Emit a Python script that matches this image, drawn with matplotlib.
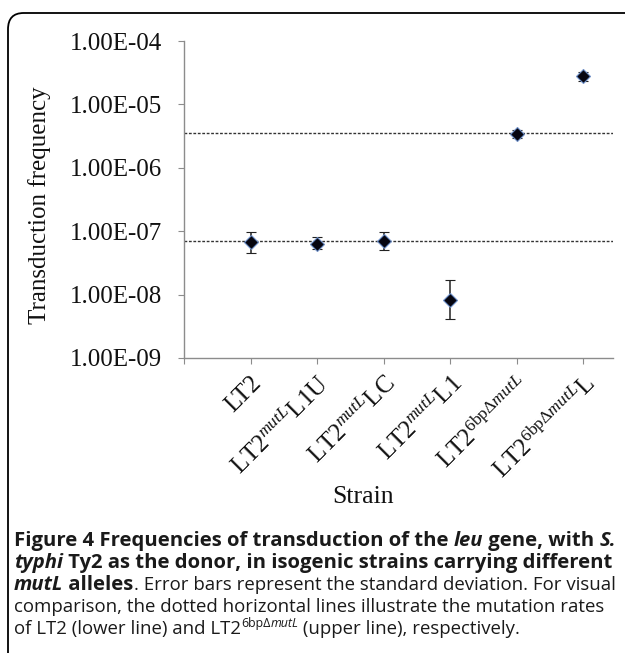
import matplotlib
matplotlib.use("Agg")
import matplotlib.pyplot as plt
import matplotlib.transforms as mtransforms
from matplotlib.patches import FancyBboxPatch
from matplotlib.ticker import FixedLocator, FuncFormatter

plt.rcParams['mathtext.fontset'] = 'custom'
plt.rcParams['mathtext.rm'] = 'Liberation Serif'
plt.rcParams['mathtext.it'] = 'Liberation Serif:italic'

# data
strains = ["LT2",
           r"LT2$^{\mathit{mutL}}$L1U",
           r"LT2$^{\mathit{mutL}}$LC",
           r"LT2$^{\mathit{mutL}}$L1",
           r"LT2$^{\mathrm{6bp}\Delta\mathit{mutL}}$",
           r"LT2$^{\mathrm{6bp}\Delta\mathit{mutL}}$L"]
freq = [6.8e-8, 6.2e-8, 6.9e-8, 8.2e-9, 3.4e-6, 2.84e-5]
err_hi = [9.8e-8, 8.0e-8, 9.7e-8, 1.7e-8, 4.0e-6, 3.3e-5]
err_lo = [4.6e-8, 5.2e-8, 5.0e-8, 4.1e-9, 2.9e-6, 2.35e-5]
ref_lines = [7.0e-8, 3.5e-6]   # LT2 and LT2 6bpΔmutL
yticks = [1e-9, 1e-8, 1e-7, 1e-6, 1e-5, 1e-4]

W, H = 625, 653
fig = plt.figure(figsize=(W / 100, H / 100), dpi=100)

# rounded frame around figure + caption
frame = FancyBboxPatch((8 / W, 0.0 - 30 / H), (W + 40) / W, (H - 13 + 30) / H,
                       boxstyle="round,pad=0,rounding_size=0.025",
                       transform=fig.transFigure, fill=False, ec="black", lw=1.3,
                       clip_on=False)
fig.patches.append(frame)

ax = fig.add_axes([184 / W, 1 - 358 / H, (613 - 184) / W, (358 - 41) / H])
x = list(range(1, len(strains) + 1))

for r in ref_lines:
    ax.axhline(r, color="#333333", lw=1.0, ls=(0, (2.0, 1.2)), zorder=1)

yerr = [[f - lo for f, lo in zip(freq, err_lo)], [hi - f for f, hi in zip(freq, err_hi)]]
ax.errorbar(x, freq, yerr=yerr, fmt="D", ms=7, mfc="#050510", mec="#6d8fc8", mew=0.8,
            ecolor="#222222", elinewidth=1.1, capsize=3.5, capthick=1.1, zorder=3)

ax.set_yscale("log")
ax.set_ylim(1e-9, 1e-4)
ax.set_xlim(0, 6.45)
ax.yaxis.set_major_locator(FixedLocator(yticks))
ax.yaxis.set_minor_locator(FixedLocator([]))
ax.yaxis.set_major_formatter(FuncFormatter(lambda v, p: "%.2E" % v))

ax.set_xticks(range(0, len(strains) + 1))
ax.set_xticklabels([""] + strains, rotation=45, ha="right", va="top",
                   rotation_mode="anchor", fontsize=18, family="Liberation Serif")
off = mtransforms.ScaledTranslation(9 / 100, 0, fig.dpi_scale_trans)
for lab in ax.get_xticklabels():
    lab.set_transform(lab.get_transform() + off)

for lab in ax.get_yticklabels():
    lab.set_family("Liberation Serif")
    lab.set_fontsize(18)

for s in ["top", "right"]:
    ax.spines[s].set_visible(False)
for s in ["left", "bottom"]:
    ax.spines[s].set_color("#8c8c8c")
    ax.spines[s].set_linewidth(1.0)
ax.tick_params(axis="y", direction="out", length=4, color="#8c8c8c", pad=12,
               labelcolor="#111111")
ax.tick_params(axis="x", direction="out", length=4, color="#8c8c8c", pad=6,
               labelcolor="#111111")

fig.text(40 / W, 1 - 205 / H, "Transduction frequency", rotation=90, ha="center",
         va="center", fontsize=18, family="Liberation Serif", color="#111111")
fig.text(363 / W, 1 - 497 / H, "Strain", ha="center", va="center", fontsize=18.5,
         family="Liberation Serif", color="#111111")

# caption, written as runs of differently styled text
cap_font = "Open Sans"
bold_size = 14.55
reg_size = 13.45
caption = [
    [("Figure 4 Frequencies of transduction of the ", "bold", "normal"),
     ("leu", "bold", "italic"), (" gene, with ", "bold", "normal"), ("S.", "bold", "italic")],
    [("typhi", "bold", "italic"),
     (" Ty2 as the donor, in isogenic strains carrying different", "bold", "normal")],
    [("mutL", "bold", "italic"), (" alleles", "bold", "normal"),
     (". Error bars represent the standard deviation. For visual", "normal", "normal")],
    [("comparison, the dotted horizontal lines illustrate the mutation rates", "normal", "normal")],
    [("of LT2 (lower line) and LT2", "normal", "normal"),
     ("6bp\u0394", "sup", "normal"), ("mutL", "sup", "italic"),
     (" (upper line), respectively.", "normal", "normal")],
]
baselines = [546, 568, 590, 612, 634]

fig.canvas.draw()
renderer = fig.canvas.get_renderer()
for line, yb in zip(caption, baselines):
    xp = 14
    for txt, weight, style in line:
        y = yb
        w = weight
        if weight == "bold":
            size = bold_size
        elif weight == "sup":
            size = reg_size * 0.66
            y = yb - 7
            w = "normal"
        else:
            size = reg_size
        t = fig.text(xp / W, 1 - y / H, txt, fontsize=size, family=cap_font,
                     weight=w, style=style, ha="left", va="baseline", color="#1a1a1a")
        bb = t.get_window_extent(renderer)
        xp += bb.width

fig.savefig("out.png", dpi=100)
